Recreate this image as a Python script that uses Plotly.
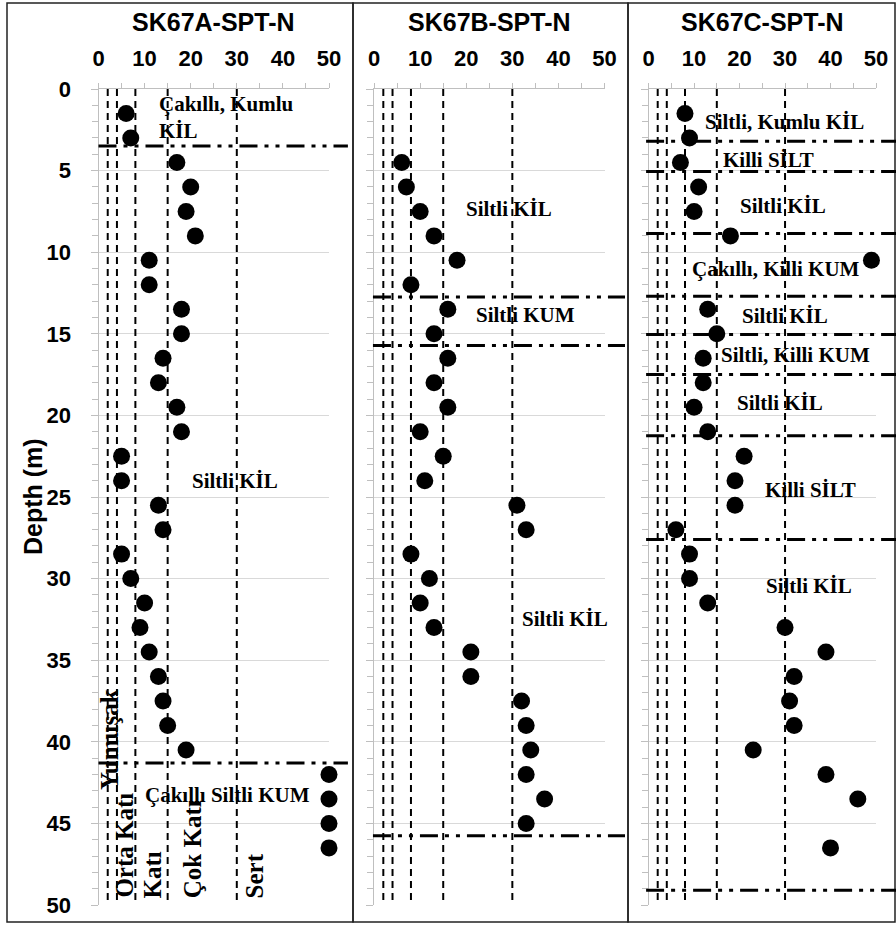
import plotly.graph_objects as go

# ---------------- data ----------------
depth_a = [1.5, 3, 4.5, 6, 7.5, 9, 10.5, 12, 13.5, 15, 16.5, 18, 19.5, 21, 22.5, 24,
           25.5, 27, 28.5, 30, 31.5, 33, 34.5, 36, 37.5, 39, 40.5, 42, 43.5, 45, 46.5]
spt_a = [6, 7, 17, 20, 19, 21, 11, 11, 18, 18, 14, 13, 17, 18, 5, 5,
         13, 14, 5, 7, 10, 9, 11, 13, 14, 15, 19, 50, 50, 50, 50]

depth_b = [4.5, 6, 7.5, 9, 10.5, 12, 13.5, 15, 16.5, 18, 19.5, 21, 22.5, 24,
           25.5, 27, 28.5, 30, 31.5, 33, 34.5, 36, 37.5, 39, 40.5, 42, 43.5, 45]
spt_b = [6, 7, 10, 13, 18, 8, 16, 13, 16, 13, 16, 10, 15, 11,
         31, 33, 8, 12, 10, 13, 21, 21, 32, 33, 34, 33, 37, 33]

depth_c = [1.5, 3, 4.5, 6, 7.5, 9, 10.5, 13.5, 15, 16.5, 18, 19.5, 21, 22.5, 24,
           25.5, 27, 28.5, 30, 31.5, 33, 34.5, 36, 37.5, 39, 40.5, 42, 43.5, 46.5]
spt_c = [8, 9, 7, 11, 10, 18, 49, 13, 15, 12, 12, 10, 13, 21, 19,
         19, 6, 9, 9, 13, 30, 39, 32, 31, 32, 23, 39, 46, 40]

consistency_limits = [2, 4, 8, 15, 30]
consistency_names = ["Yumuşak", "Orta Katı", "Katı", "Çok Katı", "Sert"]

layers_a = [3.5, 41.3]
layers_b = [12.75, 15.72, 45.75]
layers_c = [3.2, 5.05, 8.85, 12.7, 15.05, 17.5, 21.25, 27.6, 49.1]

soil_a = ["Çakıllı, Kumlu<br>KİL", "Siltli KİL", "Çakıllı Siltli KUM"]
soil_b = ["Siltli KİL", "Siltli KUM", "Siltli KİL"]
soil_c = ["Siltli, Kumlu KİL", "Killi SİLT", "Siltli KİL", "Çakıllı, Killi KUM",
          "Siltli KİL", "Siltli, Killi KUM", "Siltli KİL", "Killi SİLT", "Siltli KİL"]

titles = ["SK67A-SPT-N", "SK67B-SPT-N", "SK67C-SPT-N"]
x_tick_vals = [0, 10, 20, 30, 40, 50]
y_tick_vals = [0, 5, 10, 15, 20, 25, 30, 35, 40, 45, 50]

# ---------------- layout helpers ----------------
W, H = 896, 926
def px_x(p):
    return p / W
def px_y(p):
    return 1 - p / H

plot_top, plot_bot = 89, 905
domains_x = [(98.5, 329.0), (374.1, 604.5), (648.6, 876.0)]
frames = [(7, 353), (353, 628), (628, 895)]
frame_top, frame_bot = 3, 922

# soil label positions (data units: N, depth)
soil_pos_a = [(12.6, 1.75), (19.8, 24.0), (9.6, 43.25)]
soil_pos_b = [(19.4, 7.35), (21.6, 13.85), (31.6, 32.5)]
soil_pos_c = [(11.9, 2.0), (16.0, 4.35), (19.6, 7.17), (9.2, 11.03), (20.2, 13.9),
              (15.4, 16.3), (19.1, 19.24), (25.1, 24.57), (25.3, 30.45)]
cons_pos = [(2.5, 43.1), (5.75, 49.7), (11.8, 49.7), (20.3, 49.7), (33.9, 49.7)]

line_ext = [(0.0, 1.082), (-0.005, 1.089), (-0.011, 1.10)]

SANS = "Liberation Sans"
SERIF = "Liberation Serif"

fig = go.Figure()

depths = [depth_a, depth_b, depth_c]
spts = [spt_a, spt_b, spt_c]
layers = [layers_a, layers_b, layers_c]
soils = [soil_a, soil_b, soil_c]
soil_pos = [soil_pos_a, soil_pos_b, soil_pos_c]

shapes = []
annotations = []

for k in range(3):
    xa = "x" if k == 0 else f"x{k+1}"
    ya = "y" if k == 0 else f"y{k+1}"
    # consistency limit dashed verticals
    lx, ly = [], []
    for t in consistency_limits:
        lx += [t, t, None]
        ly += [0, 50, None]
    fig.add_trace(go.Scatter(x=lx, y=ly, mode="lines", xaxis=xa, yaxis=ya,
                             line=dict(color="black", width=2, dash="7px,5px"),
                             hoverinfo="skip", showlegend=False))
    # SPT points
    fig.add_trace(go.Scatter(x=spts[k], y=depths[k], mode="markers", xaxis=xa, yaxis=ya,
                             marker=dict(color="black", size=17),
                             cliponaxis=False, showlegend=False))
    # layer boundaries
    e0, e1 = line_ext[k]
    for d in layers[k]:
        shapes.append(dict(type="line", xref=f"{xa} domain", yref=ya,
                           x0=e0, x1=e1, y0=d, y1=d,
                           line=dict(color="black", width=3,
                                     dash="18px,7px,4px,7px,4px,7px")))
    # soil labels
    for txt, (sx, sy) in zip(soils[k], soil_pos[k]):
        annotations.append(dict(text=f"<b>{txt}</b>".replace("<br>", "</b><br><b>"),
                                x=sx, y=sy, xref=xa, yref=ya,
                                xanchor="left", yanchor="middle", align="left",
                                showarrow=False,
                                font=dict(family=SERIF, size=21, color="black")))
    # frame
    f0, f1 = frames[k]
    shapes.append(dict(type="rect", xref="paper", yref="paper",
                       x0=px_x(f0), x1=px_x(f1), y0=px_y(frame_bot), y1=px_y(frame_top),
                       line=dict(color="#222222", width=1.5), layer="below"))
    # title
    d0, d1 = domains_x[k]
    annotations.append(dict(text=f"<b>{titles[k]}</b>", x=px_x((d0 + d1) / 2), y=px_y(22),
                            xref="paper", yref="paper", xanchor="center", yanchor="middle",
                            showarrow=False,
                            font=dict(family=SANS, size=25, color="black")))

# consistency names (rotated) in panel A
for txt, (cx, cy) in zip(consistency_names, cons_pos):
    annotations.append(dict(text=f"<b>{txt}</b>", x=cx, y=cy, xref="x", yref="y",
                            xanchor="center", yanchor="bottom", textangle=-90,
                            showarrow=False,
                            font=dict(family=SERIF, size=25, color="black")))

# y axis title
annotations.append(dict(text="<b>Depth (m)</b>", x=px_x(33), y=px_y((plot_top + plot_bot) / 2),
                        xref="paper", yref="paper", xanchor="center", yanchor="middle",
                        textangle=-90, showarrow=False,
                        font=dict(family=SANS, size=25, color="black")))

layout = dict(width=W, height=H, margin=dict(l=0, r=0, t=0, b=0),
              paper_bgcolor="white", plot_bgcolor="white", showlegend=False,
              shapes=shapes, annotations=annotations)

for k in range(3):
    xkey = "xaxis" if k == 0 else f"xaxis{k+1}"
    ykey = "yaxis" if k == 0 else f"yaxis{k+1}"
    yid = "y" if k == 0 else f"y{k+1}"
    xid = "x" if k == 0 else f"x{k+1}"
    d0, d1 = domains_x[k]
    layout[xkey] = dict(domain=[px_x(d0), px_x(d1)], anchor=yid, side="top",
                        range=[0, 50], tickvals=x_tick_vals,
                        ticktext=[f"<b>{v}</b>" for v in x_tick_vals],
                        showgrid=False, zeroline=False,
                        showline=True, linecolor="#bfbfbf", linewidth=1,
                        ticks="outside", ticklen=5, tickcolor="#bfbfbf",
                        minor=dict(dtick=5, ticks="outside", ticklen=5, tickcolor="#bfbfbf",
                                   showgrid=False),
                        tickfont=dict(family=SANS, size=22, color="black"),
                        ticklabelstandoff=8, automargin=False, fixedrange=True)
    layout[ykey] = dict(domain=[px_y(plot_bot), px_y(plot_top)], anchor=xid,
                        range=[50, 0], tickvals=y_tick_vals,
                        ticktext=[f"<b>{v}</b>" for v in y_tick_vals],
                        showgrid=True,
                        gridcolor="#d9d9d9", gridwidth=1, zeroline=False,
                        showline=True, linecolor="#bfbfbf", linewidth=1,
                        ticks="outside", ticklen=7, tickcolor="#bfbfbf",
                        minor=dict(dtick=1, ticks="outside", ticklen=6, tickcolor="#bfbfbf",
                                   showgrid=False),
                        showticklabels=(k == 0),
                        tickfont=dict(family=SANS, size=22, color="black"),
                        ticklabelstandoff=15, automargin=False, fixedrange=True)

fig.update_layout(**layout)
fig.write_html("out.html", config={"displayModeBar": False},
               post_script="document.body.style.margin='0px';")
